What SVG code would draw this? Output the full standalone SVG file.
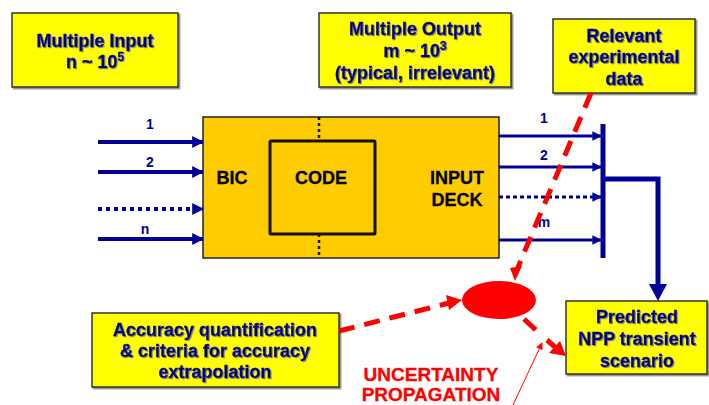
<svg xmlns="http://www.w3.org/2000/svg" width="709" height="405" viewBox="0 0 709 405">
<defs>
<filter id="sh" x="-10%" y="-10%" width="130%" height="130%"><feDropShadow dx="1" dy="1" stdDeviation="0.5" flood-color="#777" flood-opacity="0.8"/></filter>
<filter id="bsh" x="-5%" y="-5%" width="110%" height="115%"><feDropShadow dx="1.5" dy="1.5" stdDeviation="0.6" flood-color="#555" flood-opacity="0.7"/></filter>
<marker id="ab" viewBox="0 0 10 10" refX="9" refY="5" markerWidth="3" markerHeight="3.2" orient="auto" markerUnits="strokeWidth"><path d="M0,0 L10,5 L0,10 z" fill="#000099"/></marker>
<marker id="ab2" viewBox="0 0 10 10" refX="9" refY="5" markerWidth="3.2" markerHeight="3.6" orient="auto" markerUnits="strokeWidth"><path d="M0,0 L10,5 L0,10 z" fill="#000099"/></marker>
<marker id="art" viewBox="0 0 10 10" refX="9" refY="5" markerWidth="8" markerHeight="7" orient="auto" markerUnits="strokeWidth"><path d="M0,0 L10,5 L0,10 z" fill="#ff0000"/></marker>
</defs>
<style>
.yb{fill:#ffff00;stroke:#333;stroke-width:1.5;filter:url(#bsh)}
.nt{font-family:"Liberation Sans",Arial,sans-serif;font-weight:bold;font-size:18px;fill:#000080;stroke:#000080;stroke-width:0.4;text-anchor:middle;filter:url(#sh)}
.bt{font-family:"Liberation Sans",Arial,sans-serif;font-weight:bold;font-size:18px;fill:#000;stroke:#000;stroke-width:0.3;text-anchor:middle}
.lb{font-family:"Liberation Sans",Arial,sans-serif;font-weight:bold;font-size:14px;fill:#000099;text-anchor:middle}
.rt{font-family:"Liberation Sans",Arial,sans-serif;font-weight:bold;font-size:19px;fill:#ff0000;stroke:#ff0000;stroke-width:0.3;text-anchor:middle}
.in{stroke:#000099;stroke-width:4;fill:none}
.out{stroke:#000099;stroke-width:3;fill:none}
.rd{stroke:#ff0000;stroke-width:5;fill:none;stroke-dasharray:16 10}
</style>

<g id="multiple-input">
<rect class="yb" x="12" y="13" width="166" height="74"/>
<text class="nt" x="95" y="47">Multiple Input</text>
<text class="nt" x="95" y="68">n ~ 10<tspan font-size="12" dy="-7">5</tspan></text>
</g>

<g id="multiple-output">
<rect class="yb" x="319" y="13" width="192" height="74"/>
<text class="nt" x="415" y="35">Multiple Output</text>
<text class="nt" x="415" y="57">m ~ 10<tspan font-size="12" dy="-7">3</tspan></text>
<text class="nt" x="415" y="79">(typical, irrelevant)</text>
</g>

<g id="relevant-data">
<rect class="yb" x="553" y="19" width="142" height="74"/>
<text class="nt" x="624" y="42">Relevant</text>
<text class="nt" x="624" y="63">experimental</text>
<text class="nt" x="624" y="85">data</text>
</g>

<g id="main-block">
<rect x="203" y="117" width="296" height="141" fill="#ffcc00" stroke="#222" stroke-width="1.5"/>
<rect x="270" y="141" width="105" height="93" fill="none" stroke="#111" stroke-width="3" rx="1"/>
<line x1="319" y1="117" x2="319" y2="141" stroke="#111" stroke-width="2.5" stroke-dasharray="3 3"/>
<line x1="319" y1="234" x2="319" y2="258" stroke="#111" stroke-width="2.5" stroke-dasharray="3 3"/>
<text class="bt" x="232" y="184">BIC</text>
<text class="bt" x="321" y="184">CODE</text>
<text class="bt" x="457" y="184">INPUT</text>
<text class="bt" x="457" y="206">DECK</text>
</g>

<g id="accuracy">
<rect class="yb" x="92" y="313" width="247" height="74"/>
<text class="nt" x="215" y="336">Accuracy quantification</text>
<text class="nt" x="215" y="357">&amp; criteria for accuracy</text>
<text class="nt" x="215" y="378">extrapolation</text>
</g>

<g id="predicted">
<rect class="yb" x="566" y="301" width="141" height="73"/>
<text class="nt" x="637" y="323">Predicted</text>
<text class="nt" x="637" y="345">NPP transient</text>
<text class="nt" x="637" y="367">scenario</text>
</g>

<g id="uncertainty">
<ellipse cx="499" cy="300" rx="37" ry="19" fill="#ff0000"/>
<text class="rt" x="431" y="381">UNCERTAINTY</text>
<text class="rt" x="431" y="401">PROPAGATION</text>
</g>

<g id="connectors">
<line class="in" x1="98" y1="142" x2="203" y2="142" marker-end="url(#ab)"/>
<line class="in" x1="98" y1="172" x2="203" y2="172" marker-end="url(#ab)"/>
<line class="in" x1="98" y1="209" x2="203" y2="209" stroke-dasharray="4 4" marker-end="url(#ab)"/>
<line class="in" x1="98" y1="239" x2="203" y2="239" marker-end="url(#ab)"/>
<text class="lb" x="150" y="129">1</text>
<text class="lb" x="150" y="167">2</text>
<text class="lb" x="145" y="234">n</text>

<line class="out" x1="499" y1="136" x2="601" y2="136" marker-end="url(#ab2)"/>
<line class="out" x1="499" y1="167" x2="601" y2="167" marker-end="url(#ab2)"/>
<line class="out" x1="499" y1="197" x2="601" y2="197" stroke-dasharray="4 3" marker-end="url(#ab2)"/>
<line class="out" x1="499" y1="240" x2="601" y2="240" marker-end="url(#ab2)"/>
<text class="lb" x="544" y="123">1</text>
<text class="lb" x="544" y="160">2</text>
<text class="lb" x="544" y="227">m</text>

<line x1="603" y1="124" x2="603" y2="258" stroke="#000099" stroke-width="5"/>
<polyline points="603,179 658,179 658,285" fill="none" stroke="#000099" stroke-width="5"/>
<polygon points="649,284 667,284 658,301" fill="#000099"/>

<line class="rd" x1="591" y1="93" x2="516" y2="272"/>
<polygon points="510,268 522,266 515,281" fill="#ff0000"/>
<line class="rd" x1="339" y1="331" x2="449" y2="303" stroke-dasharray="18 10"/>
<polygon points="446,295 462,300 449,310" fill="#ff0000"/>
<line class="rd" x1="524" y1="319" x2="538" y2="332" stroke-dasharray="none"/>
<line class="rd" x1="547" y1="340" x2="555" y2="347" stroke-dasharray="none"/>
<polygon points="549,353 560,341 566,356" fill="#ff0000"/>
<line x1="513" y1="405" x2="542" y2="343" stroke="#ff0000" stroke-width="1" marker-end="url(#art)"/>
</g>
</svg>
